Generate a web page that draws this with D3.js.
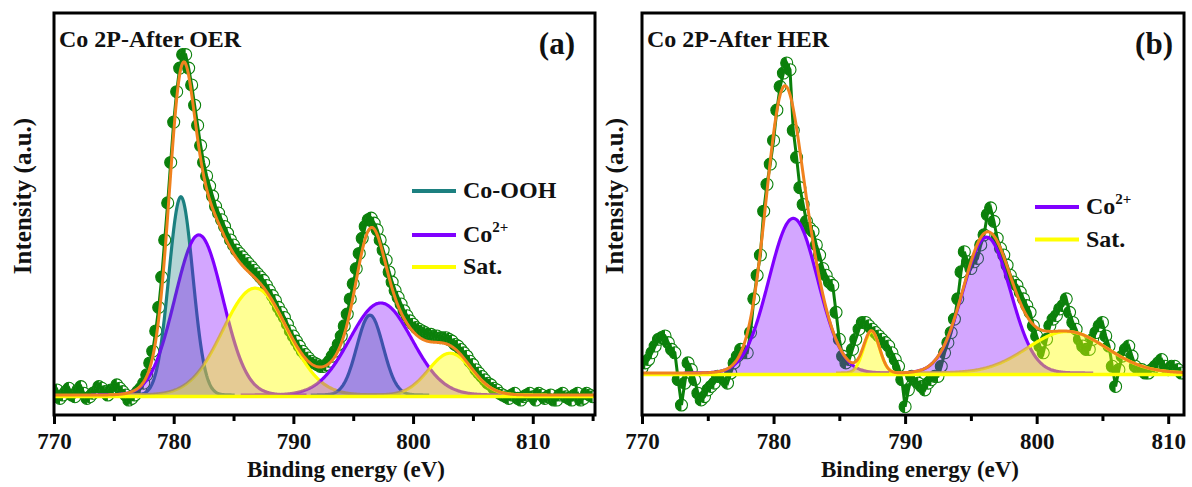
<!DOCTYPE html>
<html lang="en">
<head>
  <meta charset="UTF-8">
  <title>Co 2P XPS after OER / HER</title>
  <script src="https://d3js.org/d3.v7.min.js"></script>
  <style>
    body { margin: 0; background: #fff; }
    svg text { font-family: "Liberation Serif", "Times New Roman", serif; font-weight: bold; fill: #111; }
  </style>
</head>
<body>
<svg id="chart" width="1192" height="487"></svg>
<script>
  // ---------- data ----------
  // (a) Co 2P after OER, raw points every 0.25 eV from 770 eV
  const startA = 770, stepA = 0.25;
  const intensityA = [
    0.5, 1.5, -1, 0, 1, 2, 0, -0.5, 1.5, 2.5, 0.5, -1, -0.5, 0.5, 1, 2.5,
    2, 1, 0, 1.5, 1.5, 3, 2, 1, 0, -1.5, -1, 0, 1, 2, 3.5, 6,
    9.5, 13, 19, 26, 35, 46, 57, 69, 81, 90, 97, 101, 101, 97, 92, 86,
    80, 74, 69, 65, 62, 59, 56, 54, 52, 50, 48, 46, 44.5, 43, 42, 41,
    40, 39, 38, 37, 36, 35, 34, 32.5, 31, 29.5, 28, 26, 24.5, 23, 21, 19,
    17.5, 16, 14.5, 13, 12, 11, 10, 9.5, 9, 8.5, 8.5, 9, 10, 11.5, 13, 15,
    17.5, 20.5, 24, 28.5, 33, 37.5, 42, 46.5, 50, 52, 52.5, 51, 49, 46, 43, 40,
    36.5, 33.5, 31, 29, 27, 25, 23.5, 22, 21, 20, 19.5, 19, 18.5, 18, 18, 17.5,
    17.5, 17, 17, 17, 16.5, 16, 15, 14.5, 13.5, 12.5, 11.5, 10, 9, 7.5, 6.5, 5.5,
    4.5, 3.5, 3, 2, 1.5, 0.5, 0, -0.5, -1, 0, 0.5, -1, -1.5, -0.5, 0, 0.5,
    -0.5, -1.5, 0.5, 0, -1, -0.5, 0, -1.5, -1.5, 0, 0.5, -0.5, -1, -1.5, 0, 0.5,
    -1.5, -1, 0.5, 0, -0.5
  ];
  // fitted peaks (a): kind, centre (eV), height, width (sigma, eV)
  const peakKindA   = ["ooh", "co2", "sat", "ooh", "co2", "sat"];
  const peakCenterA = [780.6, 782.1, 786.8, 796.4, 797.3, 803.1];
  const peakHeightA = [58.8, 47.5, 31.7, 23.7, 27.3, 12.4];
  const peakSigmaA  = [1.0, 2.0, 2.7, 1.1, 2.6, 1.8];

  // (b) Co 2P after HER, raw points every 0.25 eV from 770 eV
  const startB = 770, stepB = 0.25;
  const intensityB = [
    1.5, 3, 4, 6, 8, 10, 10.5, 11, 9, 7, 6, -2, -9.5, -3, 3, 1,
    -2, -6, -8, -7, -5, -4, -3, -1, -1, -2, -3, 0, 3, 5, 7, 6,
    6, 12, 22, 29, 35, 48, 56, 62, 69, 78, 85, 89, 92, 90, 72, 64,
    55, 50, 45, 43, 42, 38, 35, 31, 29, 27, 26, 18, 10, 5, 3, 4,
    7, 10, 13, 15, 15, 14, 13, 12, 11, 10, 9, 8, 6, 4, 2, -2,
    -10, -5, -1, -2, -3, -4, -5, -3, -2, -1, -1, 2, 6, 9, 12, 16,
    22, 30, 36, 33, 31, 33, 34, 38, 41, 47, 49, 45, 40, 37, 35, 32,
    29, 27, 26, 24, 22, 20, 18, 14, 11, 8, 6, 10, 14, 16, 17, 19,
    20, 22, 18, 15, 13, 10, 8, 7, 7, 10, 12, 14, 15, 11, 8, 2,
    -4, 1, 5, 7, 8, 5, 2, 1, 1, 0, 0, 1, 2, 3, 4, 2,
    1, 2, 2, 1, 0
  ];
  // fitted peaks (b); the first one is in the envelope but not drawn
  const peakKindB   = ["hidden", "co2", "sat", "co2", "sat"];
  const peakCenterB = [780.6, 781.5, 787.45, 796.2, 802.3];
  const peakHeightB = [43, 45.9, 12.3, 40.3, 12.3];
  const peakSigmaB  = [1.2, 1.85, 0.6, 1.8, 3.0];

  const majorTicks = [770, 780, 790, 800, 810];
  const legendKindsA = ["ooh", "co2", "sat"];
  const legendKindsB = ["co2", "sat"];

  // ---------- styles ----------
  const lineColor = { ooh: "#1c8080", co2: "#8000ff", sat: "#ffff00" };
  const fillOpacity = { ooh: 0.33, co2: 0.35, sat: 0.42 };
  const green = "#0b800b", orange = "#f0821e";

  const svg = d3.select("#chart");

  function gauss(c, h, s) {
    return e => h * Math.exp(-((e - c) * (e - c)) / (2 * s * s));
  }

  function drawPanel(p) {
    const x = d3.scaleLinear().domain([770, p.xmax]).range([p.left, p.right]);
    const y = d3.scaleLinear().domain([0, 100]).range([p.base, p.base - 337]);
    const top = 13, bottom = 415;

    const g = svg.append("g");
    g.append("clipPath").attr("id", "clip" + p.id)
      .append("rect").attr("x", p.left).attr("y", top)
      .attr("width", p.right - p.left).attr("height", bottom - top);
    const plot = g.append("g").attr("clip-path", "url(#clip" + p.id + ")");

    const pts = p.values.map((v, i) => [p.start + i * p.step, v]);
    const peaks = p.kinds.map((k, i) => ({ kind: k, f: gauss(p.centers[i], p.heights[i], p.sigmas[i]), c: p.centers[i], s: p.sigmas[i] }));

    // raw data: half-filled circles + joining line
    const r = 6;
    const mk = plot.append("g").selectAll("g").data(pts).enter().append("g")
      .attr("transform", d => "translate(" + x(d[0]) + "," + y(d[1]) + ")");
    mk.append("circle").attr("r", r).attr("fill", "#fff").attr("stroke", green).attr("stroke-width", 1.1);
    mk.append("path").attr("d", "M0," + (-r) + " A" + r + "," + r + " 0 0 0 0," + r + " Z").attr("fill", green);
    plot.append("path").datum(pts)
      .attr("d", d3.line().x(d => x(d[0])).y(d => y(d[1])))
      .attr("fill", "none").attr("stroke", green).attr("stroke-width", 3);

    // component curves, then their translucent fills on top
    const shown = peaks.filter(pk => pk.kind !== "hidden").map(pk => {
      const lo = Math.max(770, pk.c - 4.5 * pk.s), hi = Math.min(p.xmax, pk.c + 4.5 * pk.s);
      return { kind: pk.kind, pts: d3.range(lo, hi + 0.001, 0.05).map(e => [e, pk.f(e)]) };
    });
    shown.forEach(c => {
      plot.append("path").datum(c.pts)
        .attr("d", d3.line().x(d => x(d[0])).y(d => y(d[1])))
        .attr("fill", "none").attr("stroke", lineColor[c.kind]).attr("stroke-width", 3.2);
    });
    shown.forEach(c => {
      plot.append("path").datum(c.pts)
        .attr("d", d3.area().x(d => x(d[0])).y0(y(0)).y1(d => y(d[1])))
        .attr("fill", lineColor[c.kind]).attr("fill-opacity", fillOpacity[c.kind]);
    });

    // baseline and envelope
    plot.append("line").attr("x1", x(770)).attr("x2", x(p.xmax))
      .attr("y1", y(0) + 1.5).attr("y2", y(0) + 1.5)
      .attr("stroke", "#ffff00").attr("stroke-width", 3.5);
    const env = d3.range(770, p.xmax + 0.001, 0.05).map(e => [e, d3.sum(peaks, pk => pk.f(e))]);
    plot.append("path").datum(env)
      .attr("d", d3.line().x(d => x(d[0])).y(d => y(d[1])))
      .attr("fill", "none").attr("stroke", orange).attr("stroke-width", 3);

    // frame
    g.append("rect").attr("x", p.left).attr("y", top)
      .attr("width", p.right - p.left).attr("height", bottom - top)
      .attr("fill", "none").attr("stroke", "#000").attr("stroke-width", 3);

    // bottom axis
    const ax = g.append("g").attr("transform", "translate(0," + bottom + ")")
      .call(d3.axisBottom(x).tickValues(majorTicks).tickSize(9).tickPadding(9).tickFormat(d3.format("d")));
    ax.select(".domain").remove();
    ax.selectAll(".tick line").attr("stroke", "#000").attr("stroke-width", 3);
    ax.selectAll("text").style("font-size", "23px");
    const minor = g.append("g").attr("transform", "translate(0," + bottom + ")")
      .call(d3.axisBottom(x).tickValues(d3.range(775, p.xmax + 0.5, 10)).tickSize(6).tickFormat(""));
    minor.select(".domain").remove();
    minor.selectAll(".tick line").attr("stroke", "#000").attr("stroke-width", 3);

    // texts
    g.append("text").attr("x", p.titleX).attr("y", 477).attr("text-anchor", "middle")
      .style("font-size", "23px").text("Binding energy (eV)");
    g.append("text").attr("transform", "translate(" + p.ylabX + ",196) rotate(-90)")
      .attr("text-anchor", "middle").style("font-size", "25px").text("Intensity (a.u.)");
    g.append("text").attr("x", p.left + 5).attr("y", 47).style("font-size", "24px").text(p.title);
    g.append("text").attr("x", p.tagX).attr("y", 54).attr("text-anchor", "end")
      .style("font-size", "31px").text(p.tag);

    // legend
    p.legend.forEach((k, i) => {
      const ly = p.legendY[i];
      g.append("line").attr("x1", p.legendX).attr("x2", p.legendX + 44)
        .attr("y1", ly).attr("y2", ly).attr("stroke", lineColor[k]).attr("stroke-width", 4);
      const t = g.append("text").attr("x", p.legendX + 51).attr("y", ly + 7).style("font-size", "24px");
      if (k === "co2") {
        t.append("tspan").text("Co");
        t.append("tspan").attr("dy", -10).style("font-size", "15px").text("2+");
      } else {
        t.text(k === "ooh" ? "Co-OOH" : "Sat.");
      }
    });
  }

  drawPanel({
    id: "a", left: 54, right: 595, xmax: 815.2, base: 395,
    start: startA, step: stepA, values: intensityA,
    kinds: peakKindA, centers: peakCenterA, heights: peakHeightA, sigmas: peakSigmaA,
    title: "Co 2P-After OER", tag: "(a)", tagX: 575, titleX: 346, ylabX: 31,
    legend: legendKindsA, legendX: 412, legendY: [191, 235, 267]
  });
  drawPanel({
    id: "b", left: 642, right: 1184, xmax: 811.2, base: 373,
    start: startB, step: stepB, values: intensityB,
    kinds: peakKindB, centers: peakCenterB, heights: peakHeightB, sigmas: peakSigmaB,
    title: "Co 2P-After HER", tag: "(b)", tagX: 1173, titleX: 920, ylabX: 623,
    legend: legendKindsB, legendX: 1035, legendY: [207, 239.5]
  });
</script>
</body>
</html>
